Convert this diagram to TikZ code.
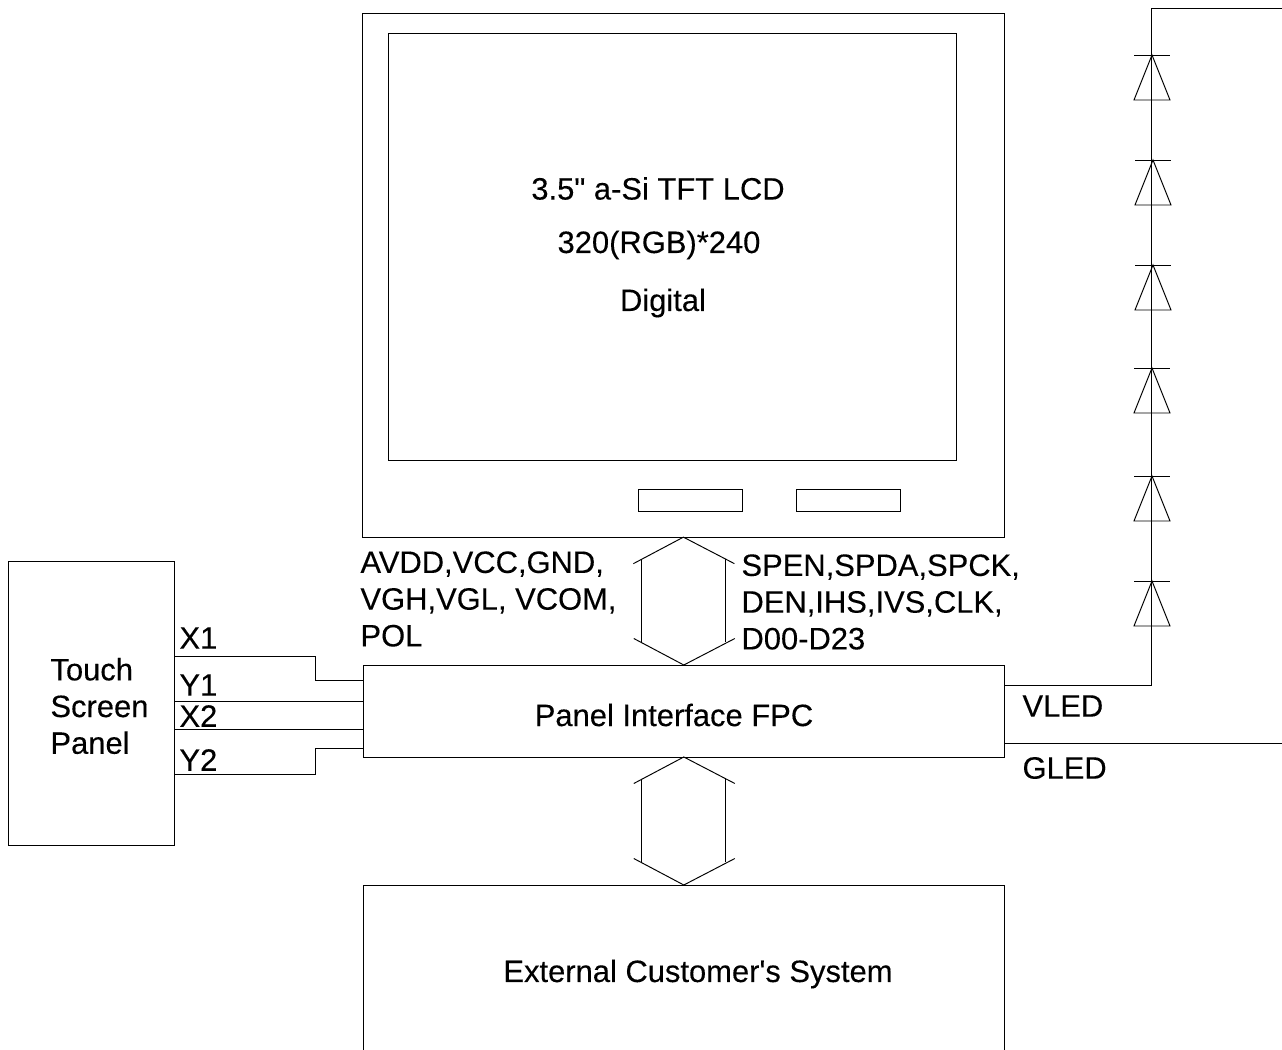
\documentclass[tikz,border=0pt]{standalone}
\usepackage{fontspec}
\setmainfont{Liberation Sans}[Ligatures=TeXOff,FakeBold=0.2]
\usepackage{tikz}

\begin{document}
\begin{tikzpicture}[x=0.02cm,y=-0.02cm,line width=0.55pt,
	box/.style={draw,rectangle,inner sep=0pt,outer sep=0pt},
	lbl/.style={inner sep=0pt,font=\fontsize{17.6}{20.9}\selectfont,align=left}]
	
	\useasboundingbox (0,0) rectangle (1282,1050);
	\clip (0,0) rectangle (1282,1050);
	
	\node[box,minimum width=12.84cm,minimum height=10.48cm] (lcd) at (683.4,275.2) {};
	\node[box,minimum width=11.36cm,minimum height=8.54cm] (glass) at (672.2,246.8) {};
	\node[box,minimum width=2.08cm,minimum height=0.44cm] (ic1) at (690,500) {};
	\node[box,minimum width=2.08cm,minimum height=0.44cm] (ic2) at (848,500) {};
	\node[box,minimum width=12.82cm,minimum height=1.84cm] (fpc) at (683.8,711) {};
	\node[box,minimum width=12.82cm,minimum height=3.6cm] (sys) at (683.8,975) {};
	\node[box,minimum width=3.32cm,minimum height=5.68cm] (tsp) at (91.8,703.2) {};
	
	\node[lbl] (t1) at (658,188.5) {3.5" a-Si TFT LCD};
	\node[lbl] (t2) at (659,245) {320(RGB)*240};
	\node[lbl] (t3) at (663,303) {Digital};
	\node[lbl] (t4) at (674,715) {Panel Interface FPC};
	\node[lbl] (t5) at (698,974) {External Customer's System};
	\node[lbl,anchor=west] (t6) at (50,706) {Touch\\Screen\\Panel};
	\node[lbl,anchor=west] (pwr) at (360,599) {AVDD,VCC,GND,\\VGH,VGL, VCOM,\\POL};
	\node[lbl,anchor=west] (sig) at (741,602) {SPEN,SPDA,SPCK,\\DEN,IHS,IVS,CLK,\\D00-D23};
	\node[lbl,anchor=west] (x1) at (179,638) {X1};
	\node[lbl,anchor=west] (y1) at (179,685) {Y1};
	\node[lbl,anchor=west] (x2) at (179,716) {X2};
	\node[lbl,anchor=west] (y2) at (179,760) {Y2};
	\node[lbl,anchor=west] (vled) at (1022,706) {VLED};
	\node[lbl,anchor=west] (gled) at (1022,768) {GLED};
	
	\coordinate (top) at (1282,8);
	\coordinate (gnd) at (1282,743);
	
	% touch panel wires
	\draw (tsp.east |- 0,656) -- (315,656) -- (315,680) -- (fpc.west |- 0,680);
	\draw (tsp.east |- 0,701) -- (fpc.west |- 0,701);
	\draw (tsp.east |- 0,729) -- (fpc.west |- 0,729);
	\draw (tsp.east |- 0,774) -- (315,774) -- (315,748) -- (fpc.west |- 0,748);
	
	% led string
	\draw (fpc.east |- 0,685.5) -- (1151.6,685.5) -- (1151.6,8) -- (top);
	\draw (fpc.east |- gnd) -- (gnd);
	\foreach \px/\py in {1152/55,1153/160,1153/265,1152/368,1152/476,1152/581}
	{
		\draw (\px-18,\py) -- (\px+18,\py);
		\draw (\px,\py) -- (\px-18,\py+45) -- (\px+18,\py+45) -- cycle;
	}
	
	% double headed busses
	\foreach \from/\to in {lcd.south/fpc.north,fpc.south/sys.north}
	{
		\draw (\from) ++(-50,26.5) -- (\from) -- ++(51,26.5);
		\draw (\to) ++(-50,-26.5) -- (\to) -- ++(51,-26.5);
		\draw (\from) ++(-42,22) -- ++(0,83);
		\draw (\from) ++(42,22) -- ++(0,83);
	}
	
\end{tikzpicture}
\end{document}
